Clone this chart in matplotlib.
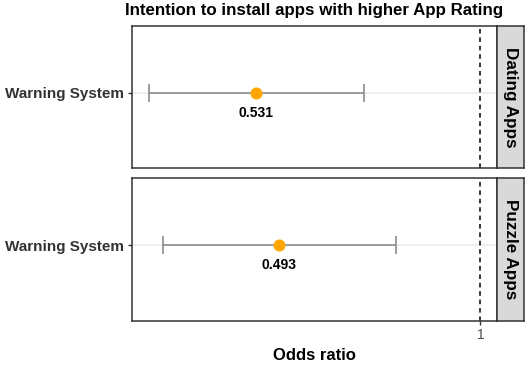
import matplotlib
matplotlib.use("Agg")
import matplotlib.pyplot as plt

# Data
panels = ["Dating Apps", "Puzzle Apps"]
term = "Warning System"
estimate = [0.531, 0.579]
ci_low = [0.307, 0.338]
ci_high = [0.757, 0.824]
label_text = ["0.531", "0.493"]
ref_value = 1
title = "Intention to install apps with higher App Rating"
xlabel = "Odds ratio"

plt.rcParams['font.family'] = ['Liberation Sans', 'DejaVu Sans']

W, H = 529, 365
fig = plt.figure(figsize=(W / 100, H / 100), dpi=100)

def px_axes(x0, y0, x1, y1):
    return fig.add_axes([x0 / W, 1 - y1 / H, (x1 - x0) / W, (y1 - y0) / H])

panel_boxes = [(132, 26, 497, 168.3), (132, 178.3, 497, 320.7)]
xmin = min(ci_low)
xmax = ref_value
pad = 0.05 * (xmax - xmin)
border = "#333333"

for i, (x0, y0, x1, y1) in enumerate(panel_boxes):
    ax = px_axes(x0, y0, x1, y1)
    ax.set_xlim(xmin - pad, xmax + pad)
    ax.set_ylim(0.47, 1.47)
    ax.axhline(1, color="#ebebeb", lw=1.1, zorder=0)
    ax.axvline(ref_value, color="black", ls=(0, (3, 2.5)), lw=1.1, zorder=1)
    ax.errorbar([estimate[i]], [1],
                xerr=[[estimate[i] - ci_low[i]], [ci_high[i] - estimate[i]]],
                fmt="none", ecolor="#8c8c8c", elinewidth=1.2, capsize=6.5,
                capthick=1.2, zorder=2)
    ax.scatter([estimate[i]], [1], s=75, color="#FFA500", zorder=3, linewidths=0)
    ax.annotate(label_text[i], (estimate[i], 1), xytext=(0, -14.5),
                textcoords="offset points", ha="center", va="center",
                fontsize=10, fontweight="bold", color="black")
    ax.set_yticks([1])
    ax.set_yticklabels([term], fontsize=11, fontweight="bold", color="#333333")
    ax.tick_params(axis="y", length=3, width=1, color="#333333", pad=3)
    if i == len(panel_boxes) - 1:
        ax.set_xticks([ref_value])
        ax.set_xticklabels([str(ref_value)], fontsize=10, color="#4d4d4d")
        ax.tick_params(axis="x", length=3, width=1, color="#333333", pad=2)
    else:
        ax.set_xticks([])
    for s in ax.spines.values():
        s.set_color(border)
        s.set_linewidth(1.1)
    # strip
    sax = px_axes(497, y0, 524, y1)
    sax.set_facecolor("#d9d9d9")
    sax.set_xticks([]); sax.set_yticks([])
    for s in sax.spines.values():
        s.set_color(border)
        s.set_linewidth(1.1)
    sax.text(0.5, 0.5, panels[i], rotation=-90, ha="center", va="center",
             fontsize=12.3, fontweight="bold", color="black", transform=sax.transAxes)

fig.text((132 + 497) / 2 / W, 1 - 11 / H, title, ha="center", va="center",
         fontsize=12.2, fontweight="bold", color="black")
fig.text((132 + 497) / 2 / W, 1 - 355 / H, xlabel, ha="center", va="center",
         fontsize=12, fontweight="bold", color="black")

fig.savefig("out.png", dpi=100)
